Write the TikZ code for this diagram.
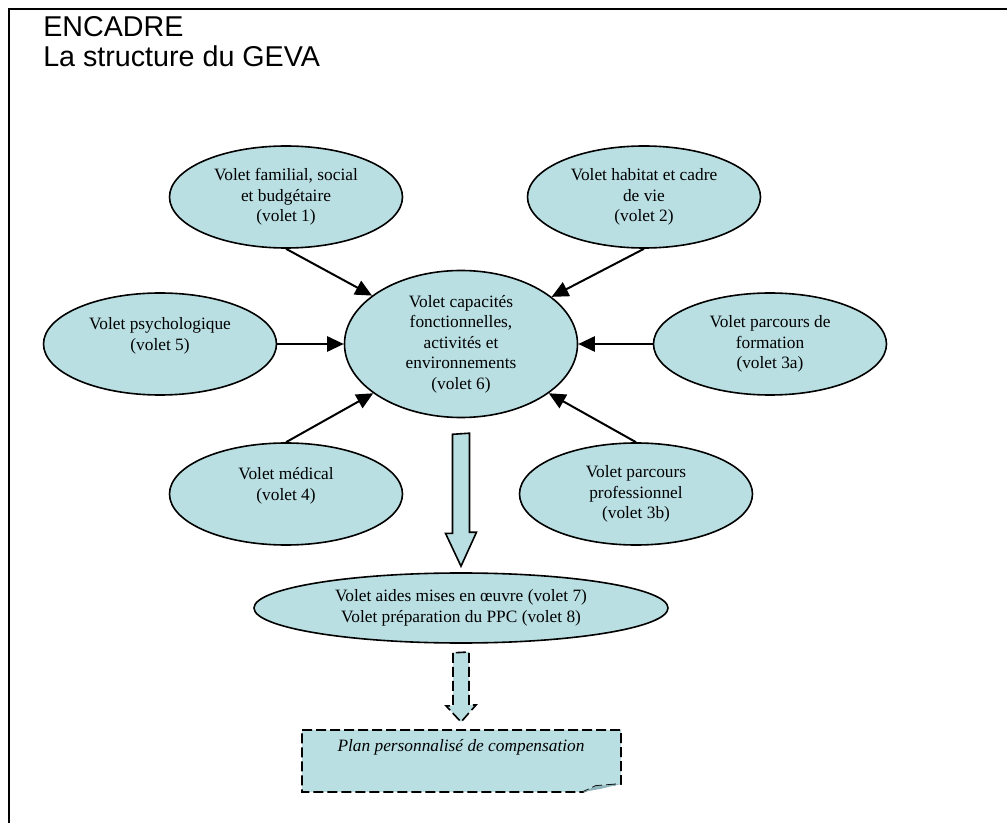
\documentclass[tikz,border=0pt]{standalone}
\usepackage{fontspec}
\setmainfont{Liberation Serif}
\newfontfamily\titrefont{Liberation Sans}
\usepackage{tikz}
\usetikzlibrary{shapes.geometric,arrows.meta}
\definecolor{voletbleu}{RGB}{185,223,227}
\definecolor{plibleu}{RGB}{140,180,186}

\begin{document}
\begin{tikzpicture}[x=0.75pt,y=-0.75pt,
  volet/.style={ellipse,draw,line width=1.2pt,fill=voletbleu,minimum width=174.75pt,minimum height=76.5pt,inner sep=0pt,align=center,font=\fontsize{13}{15.4}\selectfont},
  fleche/.style={line width=1.5pt,-{Triangle[length=12.5pt,width=11.5pt]}},
  bloc/.style={line width=1.2pt,fill=voletbleu,line join=miter},
  pointille/.style={bloc,dash pattern=on 7.5pt off 3pt},
  titre/.style={anchor=base west,inner sep=0pt,font=\titrefont\fontsize{21.5}{22.5}\selectfont}]
\useasboundingbox (0,0) rectangle (1007,823);
\draw[line width=2pt] (9,823) -- (9,9) -- (1007,9);
\node[titre] (encadre) at (43,37) {ENCADRE};
\node[titre] (geva) at (43,67) {La structure du GEVA};
% les volets
\node[volet] (v1) at (286,197) {Volet familial, social\\et budgétaire\\(volet 1)};
\node[volet] (v2) at (644,197) {Volet habitat et cadre\\de vie\\(volet 2)};
\node[volet] (v5) at (160,344) {Volet psychologique\\(volet 5)\\\null};
\node[volet,minimum height=110.25pt] (v6) at (461,344) {Volet capacités\\fonctionnelles,\\activités et\\environnements\\(volet 6)};
\node[volet] (v3a) at (770,344) {Volet parcours de\\formation\\(volet 3a)};
\node[volet] (v4) at (286,494) {Volet médical\\(volet 4)\\\null};
\node[volet] (v3b) at (636,494) {Volet parcours\\professionnel\\(volet 3b)};
\node[volet,minimum width=310.5pt,minimum height=52.5pt] (v78) at (461,608) {Volet aides mises en œuvre (volet 7)\\Volet préparation du PPC (volet 8)};
\foreach \v/\a in {v1/south,v2/south,v5/east,v3a/west,v4/north,v3b/north}
  \draw[fleche] (\v.\a) -- (v6);
% fleches pleines
\draw[bloc] ([shift={(-8.5,16)}]v6.south) -- ++(0,99) -- ++(-7,0) -- ([shift={(0,-6)}]v78.north) -- ++(15.5,-34) -- ++(-7,0) -- ++(0,-99) -- cycle;
\coordinate (doc) at (461,730);
\draw[pointille] ([shift={(-8,9)}]v78.south) -- ++(0,53) -- ++(-7,0) -- ([shift={(0,-8)}]doc) -- ++(15,-17) -- ++(-7,0) -- ++(0,-53) -- cycle;
% plan
\draw[pointille] (302,730) -- (621,730) -- (621,784) -- (596,786) -- (583,792) -- (302,792) -- cycle;
\fill[plibleu] (583,792) -- (596,786) -- (621,784) -- (600,789) -- cycle;
\node[font=\itshape\fontsize{13}{15.4}\selectfont] (plan) at (461,747) {Plan personnalisé de compensation};
\end{tikzpicture}
\end{document}
